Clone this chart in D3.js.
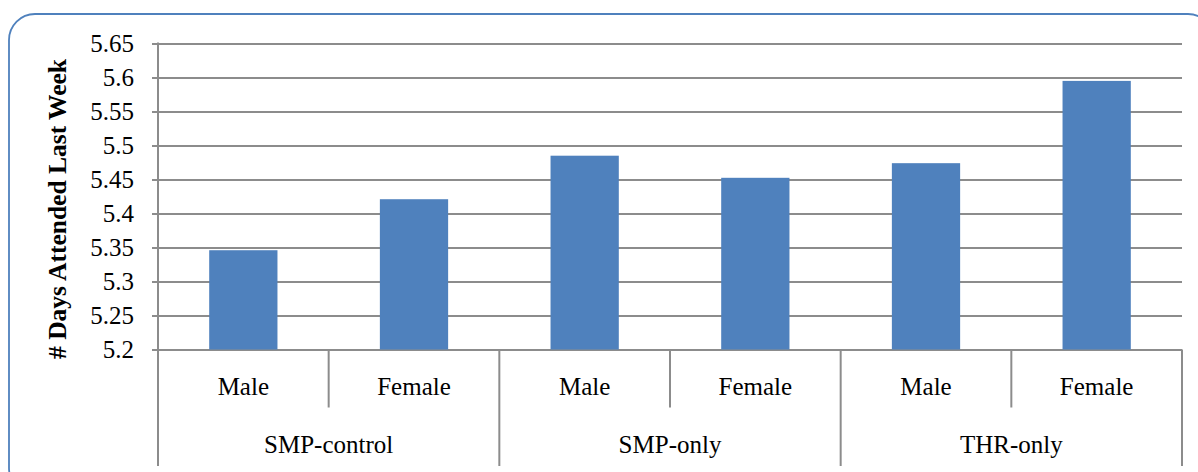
<!DOCTYPE html>
<html>
<head>
<meta charset="utf-8">
<script src="https://cdn.jsdelivr.net/npm/d3@7"></script>
<style>
  html, body { margin: 0; padding: 0; background: #fff; }
  svg { display: block; }
</style>
</head>
<body>
<div id="chart"></div>
<script>
const groups = ["SMP-control", "SMP-only", "THR-only"]
const sexes = ["Male", "Female"]
const values = [5.346, 5.421, 5.485, 5.4525, 5.474, 5.595]
const yTicks = [5.2, 5.25, 5.3, 5.35, 5.4, 5.45, 5.5, 5.55, 5.6, 5.65]

const width = 1198
const height = 472
const margin = ({top: 43.5, right: 16, bottom: 122.5, left: 158})
const font = "'Liberation Serif', 'DejaVu Serif', serif"
const fontSize = 25
const color = "#4f81bd"
const gridColor = "#8c8c8c"

// one entry per bar: group + sex
const data = groups.flatMap((g, i) => sexes.map((s, j) => ({
  key: g + "|" + s, group: g, sex: s, value: values[i * sexes.length + j]
})))

const x = d3.scaleBand()
  .domain(data.map(d => d.key))
  .range([margin.left, width - margin.right])
  .paddingInner(0.6)
  .paddingOuter(0.3)

const y = d3.scaleLinear()
  .domain([5.2, 5.65])
  .range([height - margin.bottom, margin.top])

const svg = d3.select("#chart").append("svg")
  .attr("width", width)
  .attr("height", height)
  .attr("viewBox", [0, 0, width, height])
  .attr("font-family", font)

// outer frame, cut off at the right and bottom like the picture
svg.append("rect")
  .attr("x", 9).attr("y", 14)
  .attr("width", 1205).attr("height", 480)
  .attr("rx", 26)
  .attr("fill", "none")
  .attr("stroke", color)
  .attr("stroke-width", 1.8)

const yAxis = g => g
  .attr("transform", `translate(${margin.left},0)`)
  .call(d3.axisLeft(y).tickValues(yTicks).tickSize(6).tickPadding(18)
    .tickFormat(d => String(+d.toFixed(2))))
  .attr("font-family", font)
  .attr("font-size", fontSize)
  .call(g => g.select(".domain").remove())
  .call(g => g.selectAll(".tick line").attr("stroke", gridColor).attr("stroke-width", 2))
  .call(g => g.selectAll(".tick text").attr("fill", "#000"))
  .call(g => g.selectAll(".tick").append("line")
    .attr("x2", width - margin.right - margin.left)
    .attr("stroke", gridColor).attr("stroke-width", 2))

svg.append("g").call(yAxis)

svg.append("g")
  .selectAll("rect")
  .data(data)
  .join("rect")
    .attr("x", d => x(d.key))
    .attr("y", d => y(d.value))
    .attr("width", x.bandwidth())
    .attr("height", d => y(5.2) - y(d.value))
    .attr("fill", color)

// category axis with two levels
const step = x.step()
const left = margin.left
const base = y(5.2)
const row1 = 407.5
const row2 = 466
const ax = svg.append("g").attr("stroke", gridColor).attr("stroke-width", 2)

ax.append("line").attr("x1", left).attr("x2", left).attr("y1", margin.top - 1).attr("y2", row2)
data.forEach((d, i) => {
  if (i === 0) return
  const xp = left + i * step
  const isGroup = i % sexes.length === 0
  ax.append("line").attr("x1", xp).attr("x2", xp).attr("y1", base).attr("y2", isGroup ? row2 : row1)
})
ax.append("line").attr("x1", width - margin.right).attr("x2", width - margin.right)
  .attr("y1", base).attr("y2", row2)

svg.append("g")
  .selectAll("text")
  .data(data)
  .join("text")
    .attr("x", d => x(d.key) + x.bandwidth() / 2)
    .attr("y", 395)
    .attr("text-anchor", "middle")
    .attr("font-size", fontSize)
    .text(d => d.sex)

svg.append("g")
  .selectAll("text")
  .data(groups)
  .join("text")
    .attr("x", (g, i) => left + (i + 0.5) * step * sexes.length)
    .attr("y", 453)
    .attr("text-anchor", "middle")
    .attr("font-size", fontSize)
    .text(g => g)

svg.append("text")
  .attr("transform", "translate(66,209) rotate(-90)")
  .attr("text-anchor", "middle")
  .attr("font-weight", "bold")
  .attr("font-size", 25.5)
  .text("# Days Attended Last Week")
</script>
</body>
</html>
